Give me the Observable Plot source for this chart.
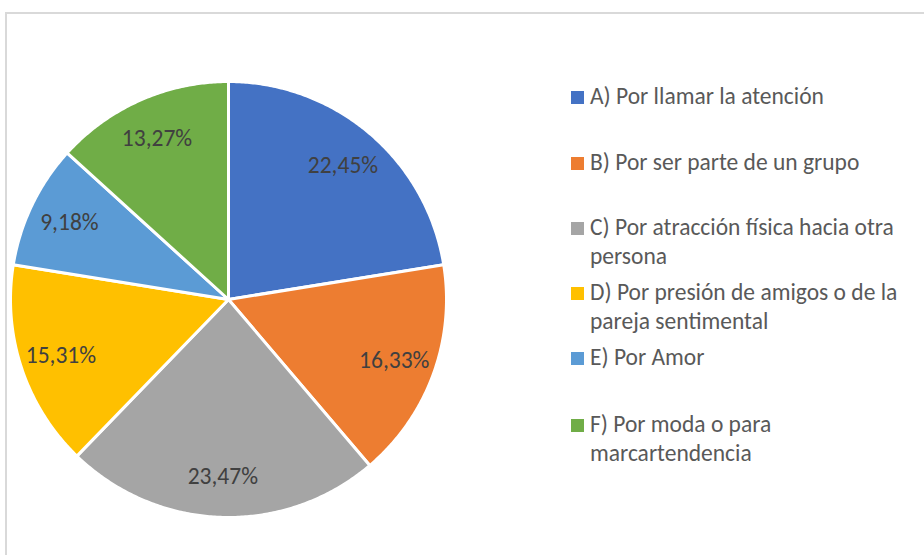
<!DOCTYPE html>
<html>
<head>
<meta charset="utf-8">
<script src="https://cdn.jsdelivr.net/npm/d3@7"></script>
<script src="https://cdn.jsdelivr.net/npm/@observablehq/plot@0.6"></script>
<style>
  html, body { margin: 0; padding: 0; background: #fff; }
  body { width: 924px; height: 555px; position: relative; overflow: hidden; font-family: Carlito, Calibri, Lato, sans-serif; }
  #frame { position: absolute; left: 5px; top: 12px; width: 1000px; height: 1000px; border: 2px solid #d9d9d9; box-sizing: border-box; }
  #chart { position: absolute; left: 0; top: 0; }
  #legend { position: absolute; left: 570px; top: 0; width: 350px; }
  .item { position: absolute; left: 0; width: 350px; color: #595959; font-size: 23.5px; line-height: 29px; }
  .sw { position: absolute; left: 1px; top: 9px; width: 13px; height: 13px; }
  .lbl { position: absolute; left: 20px; width: 330px; }
</style>
</head>
<body>
<div id="frame"></div>
<div id="chart"></div>
<div id="legend"></div>
<script>
const categories = [
  "A) Por llamar la atención",
  "B) Por ser parte de un grupo",
  "C) Por atracción física hacia otra persona",
  "D) Por presión de amigos o de la pareja sentimental",
  "E) Por Amor",
  "F) Por moda o para marcartendencia"
];
const values = [22.45, 16.33, 23.47, 15.31, 9.18, 13.27];
const colors = ["#4472C4", "#ED7D31", "#A5A5A5", "#FFC000", "#5B9BD5", "#70AD47"];

const fmt = d3.formatLocale({decimal: ",", thousands: ".", grouping: [3], currency: ["", ""]}).format(".2f");
const total = d3.sum(values);

// Build slice outlines in unit-circle data coordinates (angle clockwise from top)
const slices = [];
const labels = [];
let acc = 0;
values.forEach((v, i) => {
  const a0 = acc / total * 2 * Math.PI;
  acc += v;
  const a1 = acc / total * 2 * Math.PI;
  slices.push({cat: categories[i], x: 0, y: 0});
  const n = Math.max(2, Math.ceil((a1 - a0) / (Math.PI / 360)));
  for (let k = 0; k <= n; k++) {
    const a = a0 + (a1 - a0) * k / n;
    slices.push({cat: categories[i], x: Math.sin(a), y: Math.cos(a)});
  }
  const am = (a0 + a1) / 2;
  labels.push({cat: categories[i], x: 0.81 * Math.sin(am), y: 0.81 * Math.cos(am), text: fmt(v) + "%"});
});

const chart = Plot.plot({
  width: 924,
  height: 555,
  margin: 0,
  x: {domain: [-1, 1], range: [10, 446], axis: null},
  y: {domain: [-1, 1], range: [517, 81], axis: null},
  color: {domain: categories, range: colors},
  style: {background: "transparent", fontFamily: "Carlito, Calibri, Lato, sans-serif"},
  marks: [
    Plot.line(slices, {x: "x", y: "y", z: "cat", fill: "cat", stroke: "white", strokeWidth: 3, strokeLinejoin: "round", curve: "linear-closed"}),
    Plot.text(labels, {x: "x", y: "y", text: "text", fill: "#404040", fontSize: 23.5})
  ]
});
document.getElementById("chart").appendChild(chart);

// Legend
const legendTops = [82, 148, 213, 278, 343, 410];
const legend = document.getElementById("legend");
categories.forEach((c, i) => {
  const item = document.createElement("div");
  item.className = "item";
  item.style.top = legendTops[i] + "px";
  const sw = document.createElement("div");
  sw.className = "sw";
  sw.style.background = colors[i];
  const lbl = document.createElement("div");
  lbl.className = "lbl";
  lbl.textContent = c;
  item.appendChild(sw);
  item.appendChild(lbl);
  legend.appendChild(item);
});
</script>
</body>
</html>
